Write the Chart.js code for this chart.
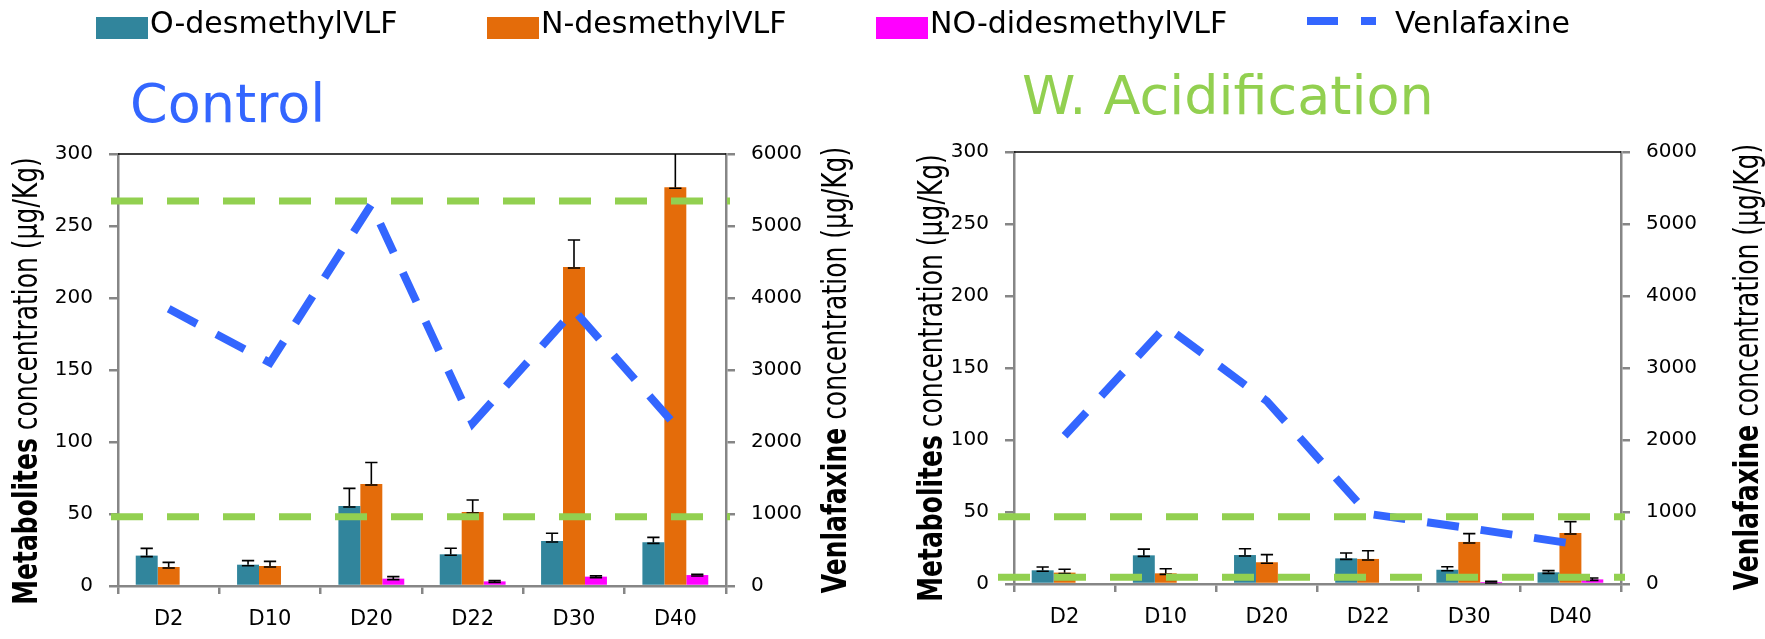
<!DOCTYPE html>
<html>
<head>
<meta charset="utf-8">
<script src="https://cdn.jsdelivr.net/npm/chart.js@4.4.1/dist/chart.umd.min.js"></script>
<style>
  body { margin: 0; background: #fff; }
  #page { position: relative; width: 1765px; height: 639px; overflow: hidden; font-family: "DejaVu Sans", sans-serif; }
  #page canvas { position: absolute; top: 0; }
  #legend { position: absolute; left: 0; top: 0; width: 1765px; height: 50px; }
  #legend div, #legend span { position: absolute; }
  #legend span { top: 8px; font-size: 30px; line-height: 30px; color: #000; white-space: nowrap; }
</style>
</head>
<body>
<div id="page">
  <canvas id="control" width="880" height="639" style="left:0px"></canvas>
  <canvas id="acid" width="885" height="639" style="left:880px"></canvas>
  <div id="legend"></div>
</div>
<script>
const days = ['D2', 'D10', 'D20', 'D22', 'D30', 'D40'];
const seriesNames = ['O-desmethylVLF', 'N-desmethylVLF', 'NO-didesmethylVLF', 'Venlafaxine'];

// Control (µg/Kg)
const ctrlODes     = [21.1, 14.8, 55.6, 22.0, 31.2, 30.3];
const ctrlODesErr  = [5.0, 2.8, 12.2, 4.2, 5.4, 3.5];
const ctrlNDes     = [13.2, 13.9, 70.8, 51.4, 221.5, 276.9];
const ctrlNDesErr  = [3.2, 3.2, 15.0, 8.3, 18.8, 30.0];
const ctrlNODes    = [0, 0, 5.1, 3.2, 6.5, 7.6];
const ctrlNODesErr = [0, 0, 1.4, 0.6, 0.6, 0.6];
const ctrlVenla    = [3850, 3100, 5300, 2260, 3830, 2230];
const ctrlLimits   = [5347, 962];

// W. Acidification (µg/Kg)
const acidODes     = [9.5, 19.9, 20.1, 17.8, 9.9, 8.1];
const acidODesErr  = [2.3, 4.3, 4.4, 3.7, 2.1, 1.2];
const acidNDes     = [7.9, 7.4, 15.1, 17.4, 29.2, 35.4];
const acidNDesErr  = [2.3, 3.2, 5.3, 5.7, 5.8, 7.9];
const acidNODes    = [0, 0, 0, 0, 1.4, 3.2];
const acidNODesErr = [0, 0, 0, 0, 0.5, 1.0];
const acidVenla    = [2060, 3580, 2540, 975, 775, 565];
const acidLimits   = [935, 93];

const metaMax = 300, metaStep = 50;
const venlaMax = 6000, venlaStep = 1000;

const colors = ['#31859c', '#e46c0a', '#ff00ff', '#3366ff'];
const limitColor = '#92d050';
const axisGray = '#868686';

Chart.defaults.font.family = '"DejaVu Sans", sans-serif';
Chart.defaults.color = '#000';

function sideTitle(ctx, bold, rest, x, yMid) {
  ctx.save();
  ctx.translate(x, yMid);
  ctx.rotate(-Math.PI / 2);
  ctx.scale(1, 1.38);
  ctx.font = 'bold 25px "DejaVu Sans"';
  const w1 = ctx.measureText(bold).width;
  ctx.font = '25px "DejaVu Sans"';
  const w2 = ctx.measureText(rest).width;
  const start = -(w1 + w2) / 2;
  ctx.fillStyle = '#000';
  ctx.textAlign = 'left';
  ctx.textBaseline = 'alphabetic';
  ctx.font = 'bold 25px "DejaVu Sans"';
  ctx.fillText(bold, start, 0);
  ctx.font = '25px "DejaVu Sans"';
  ctx.fillText(rest, start + w1, 0);
  ctx.restore();
}

const decor = {
  id: 'decor',
  // error bars right after each bar series
  afterDatasetDraw(chart, args) {
    const ds = chart.data.datasets[args.index];
    if (!ds.errors) return;
    const ctx = chart.ctx, y = chart.scales.y, a = chart.chartArea;
    ctx.save();
    ctx.beginPath();
    ctx.rect(a.left, a.top, a.right - a.left, a.bottom - a.top);
    ctx.clip();
    ctx.strokeStyle = '#000';
    ctx.lineWidth = 1.6;
    args.meta.data.forEach((bar, i) => {
      const e = ds.errors[i];
      if (!e) return;
      const top = y.getPixelForValue(ds.data[i] + e);
      const half = bar.width * 0.28;
      ctx.beginPath();
      ctx.moveTo(bar.x, bar.y);
      ctx.lineTo(bar.x, top);
      ctx.moveTo(bar.x - half, top);
      ctx.lineTo(bar.x + half, top);
      ctx.moveTo(bar.x - half, bar.y + 1);
      ctx.lineTo(bar.x + half, bar.y + 1);
      ctx.stroke();
    });
    ctx.restore();
  },
  afterDatasetsDraw(chart, args, o) {
    const ctx = chart.ctx, a = chart.chartArea, y2 = chart.scales.y2;
    ctx.save();
    // top frame line
    ctx.strokeStyle = '#000';
    ctx.lineWidth = 1.5;
    ctx.beginPath();
    ctx.moveTo(a.left, a.top);
    ctx.lineTo(a.right, a.top);
    ctx.stroke();
    // green limit lines
    ctx.strokeStyle = limitColor;
    ctx.lineWidth = 7;
    ctx.setLineDash([32, 24]);
    o.limits.forEach(v => {
      const py = y2.getPixelForValue(v);
      ctx.beginPath();
      ctx.moveTo(a.left - o.limitStart, py);
      ctx.lineTo(a.right + 4, py);
      ctx.stroke();
    });
    ctx.restore();
  },
  afterDraw(chart, args, o) {
    const ctx = chart.ctx;
    ctx.save();
    ctx.fillStyle = o.titleColor;
    ctx.font = '54px "DejaVu Sans"';
    ctx.textBaseline = 'alphabetic';
    ctx.fillText(o.title, o.titleX, o.titleY);
    ctx.restore();
    sideTitle(ctx, 'Metabolites', ' concentration (µg/Kg)', o.leftX, o.leftMid);
    sideTitle(ctx, 'Venlafaxine', ' concentration (µg/Kg)', o.rightX, o.rightMid);
  }
};

function axisY(pos, max, step, width) {
  return {
    position: pos,
    min: 0,
    max: max,
    ticks: { stepSize: step, color: '#000', font: { size: 20 }, padding: 16, callback: v => String(v) },
    grid: { display: true, drawOnChartArea: false, drawTicks: true, tickLength: 9, color: axisGray, lineWidth: 2.5 },
    border: { display: true, color: axisGray, width: 2.5 },
    afterFit: s => { s.width = width; }
  };
}

function makeChart(id, d, L) {
  return new Chart(document.getElementById(id), {
    type: 'bar',
    data: {
      labels: days,
      datasets: [
        { label: seriesNames[0], data: d.oDes, errors: d.oDesErr, backgroundColor: colors[0], yAxisID: 'y', order: 1 },
        { label: seriesNames[1], data: d.nDes, errors: d.nDesErr, backgroundColor: colors[1], yAxisID: 'y', order: 1 },
        { label: seriesNames[2], data: d.noDes, errors: d.noDesErr, backgroundColor: colors[2], yAxisID: 'y', order: 1 },
        {
          type: 'line', label: seriesNames[3], data: d.venla, yAxisID: 'y2', order: 0,
          borderColor: colors[3], borderWidth: 8, borderDash: [32, 22], borderCapStyle: 'butt',
          pointRadius: 0, tension: 0, fill: false
        }
      ]
    },
    options: {
      responsive: false,
      animation: false,
      devicePixelRatio: 1,
      layout: { padding: { top: L.top, left: 0, right: 0, bottom: 0 } },
      datasets: { bar: { categoryPercentage: 0.65, barPercentage: 1.0, borderWidth: 0 } },
      plugins: {
        legend: { display: false },
        tooltip: { enabled: false },
        decor: L.decor
      },
      scales: {
        x: {
          offset: true,
          grid: { display: true, offset: true, drawOnChartArea: false, tickLength: 8, color: axisGray, lineWidth: 2.5 },
          border: { display: true, color: axisGray, width: 2.5 },
          ticks: { color: '#000', font: { size: 21 }, padding: 13 },
          afterFit: s => { s.height = L.xH; }
        },
        y: axisY('left', metaMax, metaStep, L.yW),
        y2: axisY('right', venlaMax, venlaStep, L.y2W)
      }
    },
    plugins: [decor]
  });
}

const ctrlChart = makeChart('control', {
  oDes: ctrlODes, oDesErr: ctrlODesErr, nDes: ctrlNDes, nDesErr: ctrlNDesErr,
  noDes: ctrlNODes, noDesErr: ctrlNODesErr, venla: ctrlVenla
}, {
  top: 154, yW: 118, y2W: 154, xH: 53,
  decor: {
    limits: ctrlLimits, limitStart: 7,
    title: 'Control', titleColor: '#3366ff', titleX: 130, titleY: 122,
    leftX: 37, leftMid: 381, rightX: 846, rightMid: 370
  }
});

makeChart('acid', {
  oDes: acidODes, oDesErr: acidODesErr, nDes: acidNDes, nDesErr: acidNDesErr,
  noDes: acidNODes, noDesErr: acidNODesErr, venla: acidVenla
}, {
  top: 152, yW: 134, y2W: 144, xH: 55,
  decor: {
    limits: acidLimits, limitStart: 16,
    title: 'W. Acidification', titleColor: limitColor, titleX: 142, titleY: 114,
    leftX: 62, leftMid: 378, rightX: 878, rightMid: 367
  }
});

// legend shared by both panels, built from the chart's series
function buildLegend(chart) {
  const box = document.getElementById('legend');
  const lefts = [96, 487, 876, 1307];
  chart.data.datasets.forEach((ds, i) => {
    const x = lefts[i];
    const mark = document.createElement('div');
    const text = document.createElement('span');
    text.textContent = ds.label;
    if (ds.type === 'line') {
      mark.style.cssText = 'left:' + x + 'px;top:17px;width:69px;height:8px;background:linear-gradient(to right,' +
        ds.borderColor + ' 0 31px, transparent 31px 54px,' + ds.borderColor + ' 54px 69px)';
      text.style.left = (x + 88) + 'px';
    } else {
      mark.style.cssText = 'left:' + x + 'px;top:17px;width:52px;height:22px;background:' + ds.backgroundColor;
      text.style.left = (x + 54) + 'px';
    }
    box.appendChild(mark);
    box.appendChild(text);
  });
}
buildLegend(ctrlChart);
</script>
</body>
</html>
